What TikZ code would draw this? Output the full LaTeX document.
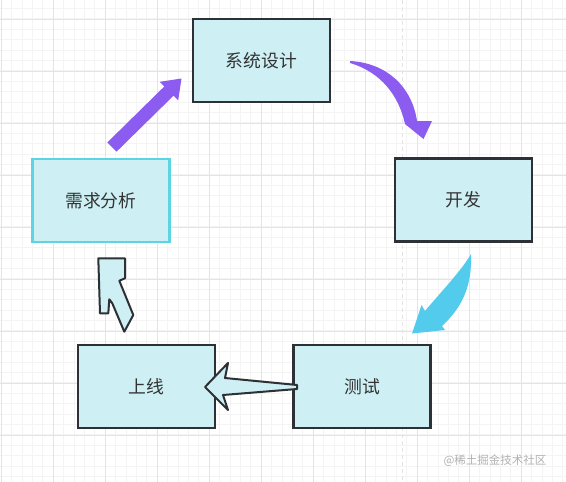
\documentclass[tikz,border=0pt]{standalone}
\usepackage{fontspec}
\newfontfamily\cjk{Noto Sans CJK SC}
\definecolor{boxfill}{RGB}{206,240,244}
\definecolor{boxline}{RGB}{45,48,52}
\definecolor{reqline}{RGB}{92,212,226}
\definecolor{txt}{RGB}{51,51,51}
\definecolor{purp}{RGB}{140,92,240}
\definecolor{cyanar}{RGB}{82,203,236}
\definecolor{gridminor}{RGB}{244,244,244}
\definecolor{gridmajor}{RGB}{228,228,228}
\definecolor{wm}{RGB}{178,178,178}
\tikzset{
  stage/.style={draw=boxline, line width=2.2pt, fill=boxfill, minimum width=137pt,
    minimum height=83pt, inner sep=0pt, text=txt, font=\cjk\fontsize{17.8pt}{20pt}\selectfont},
  outlinearrow/.style={draw=boxline, line width=2pt, fill=boxfill, line join=round},
}
\begin{document}
\begin{tikzpicture}[x=1pt,y=-1pt]
\useasboundingbox (0,0) rectangle (566,482);
\fill[white] (0,0) rectangle (566,482);
% grid
\foreach \i in {0,...,55} {
  \draw[gridminor, line width=0.6pt] ({1+10.4*\i},0) -- ({1+10.4*\i},482);
}
\foreach \i in {0,...,47} {
  \draw[gridminor, line width=0.6pt] (0,{-2.2+10.4*\i}) -- (566,{-2.2+10.4*\i});
}
\foreach \i in {0,...,11} {
  \draw[gridmajor, line width=0.8pt] ({1+52*\i},0) -- ({1+52*\i},482);
}
\foreach \i in {0,...,9} {
  \draw[gridmajor, line width=0.8pt] (0,{19+52*\i}) -- (566,{19+52*\i});
}
\draw[gridmajor, line width=0.8pt, dash pattern=on 4pt off 3pt] (402,0) -- (402,482);

% boxes
\node[stage] (sys) at (261.5,60.5) {系统设计};
\node[stage] (dev) at (463.5,200) {开发};
\node[stage] (test) at (362,386.5) {测试};
\node[stage] (online) at (146.5,386.5) {上线};
\node[stage, draw=reqline] (req) at (101,200.5) {需求分析};

% purple straight arrow req -> sys
\fill[purp] (116.6,151.6) -- (107.4,142.4) -- (164.4,86.4) -- (159.8,81.8)
  -- (181.5,78.5) -- (178.2,100.2) -- (173.6,95.6) -- cycle;

% purple curved arrow sys -> dev
\fill[purp] (350,61) .. controls (387,63) and (412,87) .. (417,121)
  -- (432,121) -- (423.5,139) -- (405,124)
  .. controls (399,96) and (381,72) .. (350,63) -- cycle;

% cyan curved arrow dev -> test
\fill[cyanar] (471,254) .. controls (472,282) and (465,305) .. (442,326)
  -- (445,330) -- (412,333.5) -- (421.5,305) -- (425,311)
  .. controls (440,293) and (462,270) .. (471,254) -- cycle;

% outline arrow test -> online
\filldraw[outlinearrow] (297,385) -- (225,378) -- (228,363) -- (205,387)
  -- (228,410) -- (223,395) -- (297,389) -- cycle;

% outline arrow online -> req
\filldraw[outlinearrow] (98.3,258.3) -- (125,258.3) -- (125,278.3) -- (119.3,280.7)
  -- (133.3,315) -- (124.3,331.7) -- (112.3,303.3) -- (109.3,299.3)
  -- (108.3,313.3) -- (100,313.3) -- cycle;

% watermark
\node[text=wm, font=\cjk\fontsize{11.5pt}{14pt}\selectfont, inner sep=0pt] (wmark) at (495,461) {@稀土掘金技术社区};
\end{tikzpicture}
\end{document}
